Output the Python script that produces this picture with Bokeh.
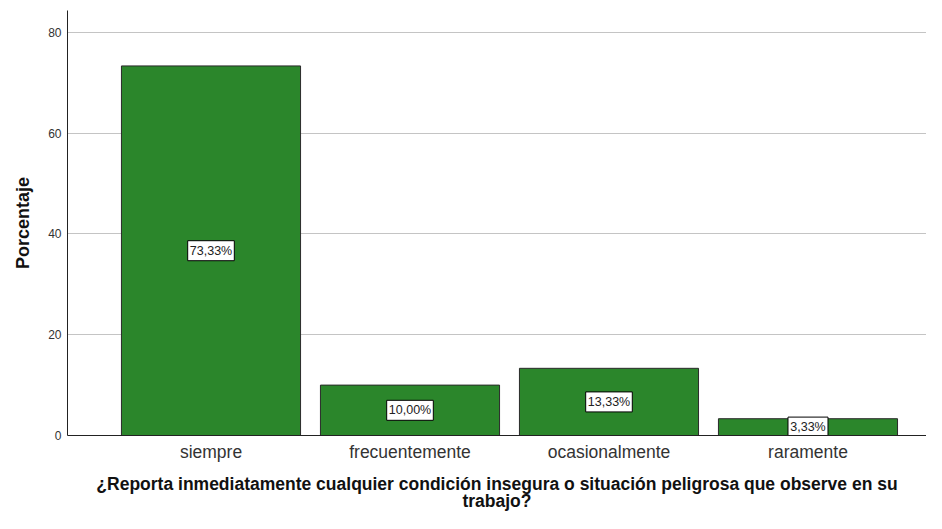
from bokeh.plotting import figure
from bokeh.models import Range1d, FixedTicker, ColumnDataSource
from bokeh.core.properties import value
from bokeh.embed import file_html
from bokeh.resources import INLINE

categories = ["siempre", "frecuentemente", "ocasionalmente", "raramente"]
porcentaje = [73.33, 10.00, 13.33, 3.33]
etiquetas = ["73,33%", "10,00%", "13,33%", "3,33%"]
y_ticks = [0, 20, 40, 60, 80]

FONT = "Liberation Sans"
xs = list(range(len(categories)))
src = ColumnDataSource(dict(
    x=xs, top=porcentaje, mid=[v / 2 for v in porcentaje], lab=etiquetas,
    bw=[len(s) * 6.6 + 7 for s in etiquetas],
))

p = figure(width=926, height=513,
           x_range=Range1d(-0.7211, 3.5955), y_range=Range1d(0, 84.33),
           output_backend="svg", toolbar_location=None,
           min_border_left=67, min_border_right=0, min_border_top=10, min_border_bottom=76)
p.outline_line_color = None
p.background_fill_color = "white"

p.vbar(x="x", top="top", bottom=0, width=0.9, source=src,
       fill_color="#2b862b", line_color="#2a2a2a", line_width=1)

p.rect(x="x", y="mid", width="bw", height=20, width_units="screen", height_units="screen",
       source=src, fill_color="white", line_color="black", line_width=1)
p.text(x="x", y="mid", text="lab", source=src, text_align="center", text_baseline="middle",
       text_font=value(FONT), text_font_size="12.5px", text_color="#222222")

# grid
p.xgrid.grid_line_color = None
p.ygrid.grid_line_color = "#c4c4c4"
p.ygrid.grid_line_width = 1
p.ygrid.ticker = FixedTicker(ticks=y_ticks)

# y axis
p.yaxis.ticker = FixedTicker(ticks=y_ticks)
p.yaxis.axis_label = "Porcentaje"
p.yaxis.axis_label_text_font = FONT
p.yaxis.axis_label_text_font_style = "bold"
p.yaxis.axis_label_text_font_size = "18px"
p.yaxis.axis_label_text_color = "#111111"
p.yaxis.axis_label_standoff = 12
p.yaxis.major_label_text_font = FONT
p.yaxis.major_label_text_font_size = "12px"
p.yaxis.major_label_text_color = "#333333"
p.yaxis.major_label_standoff = 6
p.yaxis.major_tick_in = 0
p.yaxis.major_tick_out = 0
p.yaxis.minor_tick_line_color = None
p.yaxis.axis_line_color = "#222222"

# x axis
p.xaxis.ticker = FixedTicker(ticks=xs)
p.xaxis.major_label_overrides = {i: c for i, c in zip(xs, categories)}
p.xaxis.axis_label = ("¿Reporta inmediatamente cualquier condición insegura o situación peligrosa que observe en su\n"
                      "trabajo?")
p.xaxis.axis_label_text_font = FONT
p.xaxis.axis_label_text_font_style = "bold"
p.xaxis.axis_label_text_font_size = "17.5px"
p.xaxis.axis_label_text_color = "#111111"
p.xaxis.axis_label_text_line_height = 0.85
p.xaxis.axis_label_standoff = 9
p.xaxis.major_label_text_font = FONT
p.xaxis.major_label_text_font_size = "17.5px"
p.xaxis.major_label_text_color = "#333333"
p.xaxis.major_label_standoff = 6
p.xaxis.major_tick_in = 0
p.xaxis.major_tick_out = 0
p.xaxis.minor_tick_line_color = None
p.xaxis.axis_line_color = "#222222"

open("out.html", "w").write(file_html(p, INLINE))
